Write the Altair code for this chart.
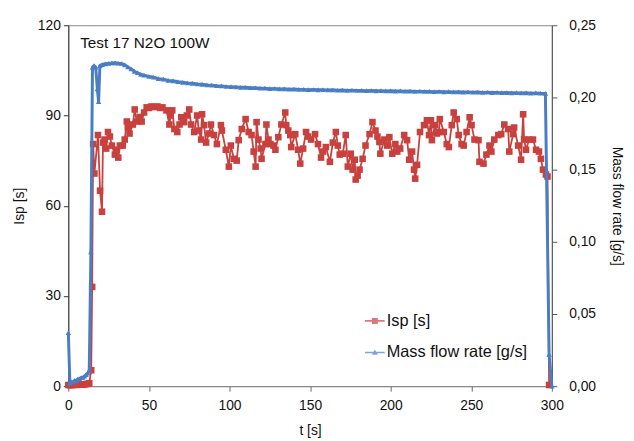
import altair as alt
import pandas as pd

# ---- Isp [s] series ----
isp_t = [0, 1, 2, 3, 4, 5, 6, 7, 8, 9, 10, 11, 12, 13, 14.2, 14.8, 15.4, 16.2, 18.4, 19.7,
         20.9, 21.5, 22.5, 23.5, 24.6, 25.8, 27, 28.9, 30.1, 31, 32, 33.8, 35, 36.3, 36.9, 38,
         40, 41.2, 42.5, 44.3, 45.5, 47, 48.6, 50, 51.6, 53.5, 55.3, 57, 58.4, 60.9, 62.7, 63.5,
         64.5, 65.8, 67.6, 69, 70.1, 71.9, 73.5, 75, 76.2, 78.1, 79.9, 81, 82.4,
         83, 84.2, 85.5, 87.3, 88.5, 90.4, 92.2, 94.7, 95.3, 97.7, 99.6, 100.8, 102.7, 104.5,
         105.7, 107.6, 110, 111.9, 113.7, 115, 116.2, 116.8, 118, 119.3, 119.9, 122.3, 122.9,
         124.2, 125.4, 127.3, 128.5, 130.3, 132.2, 134.6, 135.2, 136.5, 137.7, 138.3, 140.8,
         142.6, 143.9, 145.7, 147.5, 148.8, 150.6, 153.1,
         154.9, 156.8, 158, 159.8, 162.3, 164.1, 166, 167.2, 168.4, 170.3, 172.1, 173.4, 175.2,
         176.4, 177.7, 178.3, 179.5, 180.7, 182.6, 184.4, 186.9, 188.7, 190.6, 191.8, 193, 193.6,
         196.1, 197.9, 199.2, 201, 202.9, 204.1, 205.9, 208.4, 210.2, 211.5, 213.3, 214.5, 215.2,
         216.4, 218.2, 220.7, 222.5, 223.8,
         225, 225.6, 227.5, 228.7, 229.9, 230.5, 233, 234.8, 236.1, 237.9, 239.1, 241, 242.2,
         244, 245.3, 247.1, 249, 250.2, 252, 254.5, 255.1, 257.6, 259.4, 261.3, 262.5, 264.3,
         266.8, 268.6, 270.5, 272.9, 273.6, 276, 276.6, 279.1, 280.9, 282.2, 282.8, 284, 285.9,
         288.3, 290.2, 292, 293.2, 294.5, 296.3, 297.3, 298.3]
isp_v = [0.4, 0.3, 0.4, 0.4, 0.5, 0.4, 0.5, 0.5, 0.6, 0.5, 0.6, 0.7, 0.8, 1.0, 5.3, 33, 80.5, 70.7, 83.5, 65,
         58, 81, 82, 79, 84.5, 83, 80, 77, 78.6, 76, 80, 80, 82, 88, 86, 84,
         87, 92, 88, 89.5, 88, 91, 92.7, 92.5, 93, 92.8, 93, 92.5, 92.7, 91.7, 87, 90,
         91.7, 85.5, 84.5, 87, 89.4, 87.8, 90, 92, 87, 84.5, 90, 85, 82,
         90.4, 86.8, 81, 84, 87, 83.5, 80.5, 86.8, 85, 78.6, 73, 80, 75.6, 75,
         81.8, 85.5, 88.8, 84.5, 83.5, 78, 73, 87.8, 82, 79, 75.6, 80.5, 87,
         82, 80.5, 80, 78.6, 82.8, 87, 91, 86.8, 85, 83.5, 79.5, 83.8,
         78.6, 74, 79, 84.5, 83, 82, 83.8,
         80.5, 76, 78, 79.5, 74.6, 81, 84.5, 80, 77, 77.3, 83.5, 73, 77.3,
         72, 75.3, 68.7, 70, 72, 75.6, 80, 83.8, 87.8, 85, 83, 81.2, 77.3,
         82, 80, 82.8, 77.3, 80.5, 78, 79, 83.5, 81.8, 75.3, 78, 72, 69,
         73.6, 84.5, 86.8, 88.4, 83.5,
         88.4, 81.8, 86.8, 84, 84.5, 88.8, 84.5, 80.5, 79.5, 86.8, 91, 88.8, 83.5,
         80.5, 80, 84.5, 89.4, 86.8, 82, 81.8, 74.6, 74, 77, 80, 78, 82,
         83.5, 83.8, 87, 85.5, 78, 83.8, 86, 80, 75.3, 90.4, 82, 78.6, 82,
         82, 78.6, 78, 75.6, 72, 70.4, 69.7, 0.4]

# ---- Mass flow rate [g/s] series ----
mf_t = [0, 1, 2, 3, 4, 5, 6, 7, 8, 9, 10, 11, 12, 13, 14, 15, 16, 17, 18, 18.8, 19.6,
        21, 23, 25, 27, 29, 31, 33, 35, 37, 39, 41, 43, 45, 47, 50, 53, 56, 59, 62, 65, 68,
        71, 74, 77, 80, 83, 86, 89, 92, 95, 98, 101, 104, 107, 110, 113, 116, 119, 122, 125,
        128, 131, 134, 137, 140, 143, 146, 149, 152, 155, 158, 161, 164, 167, 170, 173, 176,
        179, 182, 185, 188, 191, 194, 197, 200, 203, 206, 209, 212, 215, 218, 221, 224, 227,
        230, 233, 236, 239, 242, 245, 248, 251, 254, 257, 260, 263, 266, 269, 272, 275, 278,
        281, 284, 287, 290, 293, 296, 298.3, 300]
mf_v = [0.037, 0.002, 0.003, 0.003, 0.004, 0.004, 0.005, 0.005, 0.006, 0.006, 0.007, 0.008,
        0.009, 0.011, 0.093, 0.221, 0.222, 0.221, 0.206, 0.197, 0.222,
        0.2228, 0.2233, 0.2236, 0.2239, 0.2240, 0.2237, 0.2235, 0.2226, 0.2211, 0.2197,
        0.2181, 0.2171, 0.2160, 0.2155, 0.2145, 0.2140, 0.2130, 0.2127, 0.2118, 0.2115,
        0.2109, 0.2105, 0.2100, 0.2098, 0.2093, 0.2091, 0.2087, 0.2085, 0.2081, 0.2080,
        0.2076, 0.2075, 0.2073, 0.2070, 0.2070, 0.2067, 0.2067, 0.2064, 0.2064, 0.2061,
        0.2062, 0.2059, 0.2060, 0.2057, 0.2058, 0.2056, 0.2056, 0.2054, 0.2055, 0.2053,
        0.2054, 0.2052, 0.2053, 0.2050, 0.2051, 0.2049, 0.2050, 0.2048, 0.2049, 0.2047,
        0.2048, 0.2046, 0.2047, 0.2045, 0.2046, 0.2044, 0.2045, 0.2043, 0.2044, 0.2042,
        0.2043, 0.2041, 0.2042, 0.2040, 0.2041, 0.2039, 0.2040, 0.2038, 0.2039, 0.2037,
        0.2038, 0.2036, 0.2037, 0.2035, 0.2036, 0.2034, 0.2035, 0.2033, 0.2034, 0.2032,
        0.2033, 0.2031, 0.2032, 0.2030, 0.2031, 0.2029, 0.2028, 0.022, 0.0]

series_names = ["Isp [s]", "Mass flow rate [g/s]"]
series_colors = ["#C8413E", "#4A7EC4"]
title_text = "Test 17 N2O 100W"

isp_df = pd.DataFrame({"t": isp_t, "isp": isp_v})
mf_df = pd.DataFrame({"t": mf_t, "mf": mf_v})
legend_df = pd.DataFrame({"series": series_names})

FONT = "Liberation Sans"
x_enc = alt.X("t:Q", scale=alt.Scale(domain=[0, 300], nice=False),
              axis=alt.Axis(title="t [s]", values=[0, 50, 100, 150, 200, 250, 300],
                            grid=False, labelFlush=False, domainColor="#888888",
                            tickColor="#666666", labelPadding=8, titlePadding=11))

isp_layer = alt.Chart(isp_df).mark_line(
    color=series_colors[0], strokeWidth=1.8,
    point=alt.OverlayMarkDef(shape="square", size=44, filled=True, color=series_colors[0], opacity=1),
).encode(
    x=x_enc,
    y=alt.Y("isp:Q", scale=alt.Scale(domain=[0, 120], nice=False),
            axis=alt.Axis(title="Isp [s]", values=[0, 30, 60, 90, 120], grid=False,
                          orient="left", domainColor="#333333", tickColor="#333333",
                          titlePadding=11)),
)

mf_layer = alt.Chart(mf_df).mark_line(
    color=series_colors[1], strokeWidth=3,
    point=alt.OverlayMarkDef(shape="triangle-up", size=30, filled=True, color=series_colors[1], opacity=1),
).encode(
    x=alt.X("t:Q"),
    y=alt.Y("mf:Q", scale=alt.Scale(domain=[0, 0.25], nice=False),
            axis=alt.Axis(title="Mass flow rate [g/s]", values=[0, 0.05, 0.10, 0.15, 0.20, 0.25],
                          grid=False, orient="right", domainColor="#555555", tickColor="#555555",
                          labelPadding=12, titlePadding=14,
                          labelExpr="replace(format(datum.value, '.2f'), '.', ',')")),
)

title_layer = alt.Chart(pd.DataFrame({"label": [title_text]})).mark_text(
    align="left", baseline="middle", fontSize=15.5, font=FONT, color="#111111"
).encode(text="label:N", x=alt.value(12), y=alt.value(18))

isp_sym = "M-1,-0.09H1V0.09H-1Z M-0.3,-0.3H0.3V0.3H-0.3Z"
mf_sym = "M-1,-0.07H1V0.07H-1Z M0,-0.32L0.3,0.22H-0.3Z"

legend_layer = alt.Chart(legend_df).mark_point(filled=True).encode(
    color=alt.Color("series:N", scale=alt.Scale(domain=series_names, range=series_colors),
                    legend=alt.Legend(title=None, orient="none", legendX=300, legendY=289,
                                      symbolSize=400, symbolStrokeWidth=0,
                                      labelFontSize=16.5, labelFont=FONT, labelColor="#111111",
                                      rowPadding=13, labelOffset=2, padding=0)),
    shape=alt.Shape("series:N", scale=alt.Scale(domain=series_names, range=[isp_sym, mf_sym])),
).transform_filter("false")

chart = alt.layer(isp_layer, mf_layer, title_layer, legend_layer).resolve_scale(
    y="independent"
).properties(
    width=489, height=365,
    padding={"left": 4, "top": 8, "right": 2, "bottom": 2},
).configure_axis(
    labelFont=FONT, titleFont=FONT, labelFontSize=14, titleFontSize=14,
    titleFontWeight="normal", labelColor="#111111", titleColor="#111111",
    tickSize=5, labelPadding=3, titlePadding=8,
).configure_view(
    stroke="#888888", strokeWidth=1
)

chart.save("out.html", embed_options={"renderer": "svg", "actions": False})
